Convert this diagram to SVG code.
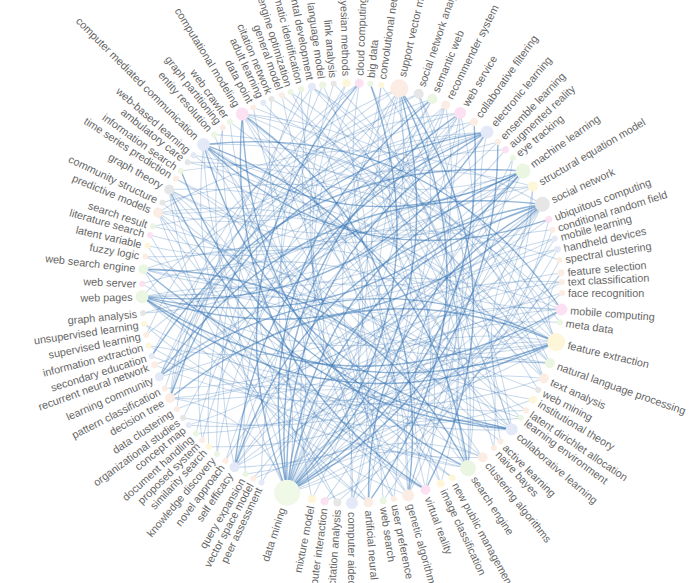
<svg xmlns="http://www.w3.org/2000/svg" width="690" height="583" viewBox="0 0 690 583">
<style>
.g{fill:#eaf5e2}.p{fill:#fbede3}.k{fill:#fbe1f1}.y{fill:#fdf6d8}.b{fill:#e3e9f6}.a{fill:#e6e6e6}.dm{fill:#f0f8e8}
text{font-family:"Liberation Sans",Arial,sans-serif;font-size:10.8px;fill:#666;dominant-baseline:central}
.L text{text-anchor:end}
#connectors path{fill:none;stroke:#3a78b6;stroke-opacity:.28;stroke-width:1}
#connectors path.s{stroke-opacity:.55;stroke-width:1.4}
</style>
<rect width="690" height="583" fill="#fff"/>
<g id="connectors" transform="translate(352 293)">
<path class="s" transform="rotate(195.5)" d="M9.2-209.8Q-116.7 0 9.2 209.8"/>
<path class="s" transform="rotate(24.5)" d="M23.8-208.6Q-101.4 0 23.8 208.6"/>
<path class="s" transform="rotate(29)" d="M40.1-206.1Q-83.6 0 40.1 206.1"/>
<path class="s" transform="rotate(36.25)" d="M65.8-199.4Q-53.8 0 65.8 199.4"/>
<path class="s" transform="rotate(41.5)" d="M83.8-192.6Q-31.8 0 83.8 192.6"/>
<path transform="rotate(60.75)" d="M142.5-154.2Q50 0 142.5 154.2"/>
<path transform="rotate(56.25)" d="M130-164.9Q31.1 0 130 164.9"/>
<path class="s" transform="rotate(190)" d="M29.2-208Q154 0 29.2 208"/>
<path class="s" transform="rotate(191.5)" d="M23.8-208.6Q-101.4 0 23.8 208.6"/>
<path class="s" transform="rotate(20.25)" d="M8.2-209.8Q-117.7 0 8.2 209.8"/>
<path transform="rotate(18.25)" d="M0.9-210Q126.9 0 0.9 210"/>
<path transform="rotate(22.25)" d="M15.6-209.4Q141.2 0 15.6 209.4"/>
<path class="s" transform="rotate(26.75)" d="M32-207.6Q156.6 0 32 207.6"/>
<path class="s" transform="rotate(31)" d="M47.2-204.6Q170 0 47.2 204.6"/>
<path transform="rotate(38.75)" d="M74.4-196.4Q192.2 0 74.4 196.4"/>
<path transform="rotate(43.75)" d="M91.3-189.1Q204.8 0 91.3 189.1"/>
<path transform="rotate(51.25)" d="M115.2-175.6Q9.8 0 115.2 175.6"/>
<path transform="rotate(52.5)" d="M119-173.1Q15.1 0 119 173.1"/>
<path transform="rotate(63.75)" d="M150.5-146.6Q62.5 0 150.5 146.6"/>
<path transform="rotate(66)" d="M156.1-140.5Q71.8 0 156.1 140.5"/>
<path transform="rotate(74.25)" d="M174.6-116.7Q104.6 0 174.6 116.7"/>
<path transform="rotate(79.75)" d="M185-99.4Q125.4 0 185 99.4"/>
<path transform="rotate(82.25)" d="M189.1-91.3Q134.3 0 189.1 91.3"/>
<path transform="rotate(166.5)" d="M109.8-179Q2.4 0 109.8 179"/>
<path transform="rotate(173.25)" d="M87.9-190.7Q-26.5 0 87.9 190.7"/>
<path transform="rotate(158.75)" d="M132.9-162.6Q35.3 0 132.9 162.6"/>
<path transform="rotate(143.5)" d="M171-122Q97.8 0 171 122"/>
<path transform="rotate(129)" d="M196.1-75.3Q150.9 0 196.1 75.3"/>
<path transform="rotate(183.5)" d="M52.6-203.3Q174.6 0 52.6 203.3"/>
<path transform="rotate(185)" d="M47.2-204.6Q-75.6 0 47.2 204.6"/>
<path transform="rotate(48)" d="M105-181.9Q-4.1 0 105 181.9"/>
<path transform="rotate(46.5)" d="M100.2-184.6Q-10.6 0 100.2 184.6"/>
<path class="s" transform="rotate(96.25)" d="M26.5-208.3Q151.5 0 26.5 208.3"/>
<path class="s" transform="rotate(100)" d="M12.8-209.6Q138.6 0 12.8 209.6"/>
<path transform="rotate(-72)" d="M16.5-209.4Q-109.1 0 16.5 209.4"/>
<path transform="rotate(-68.5)" d="M29.2-208Q-95.6 0 29.2 208"/>
<path transform="rotate(-60.75)" d="M57-202.1Q178.3 0 57 202.1"/>
<path class="s" transform="rotate(81.75)" d="M77.9-195Q-39.1 0 77.9 195"/>
<path class="s" transform="rotate(85)" d="M66.7-199.2Q-52.8 0 66.7 199.2"/>
<path transform="rotate(89.5)" d="M50.8-203.8Q173.1 0 50.8 203.8"/>
<path transform="rotate(68.75)" d="M119.7-172.5Q16.2 0 119.7 172.5"/>
<path transform="rotate(44)" d="M181-106.6Q117 0 181 106.6"/>
<path transform="rotate(-31.75)" d="M147.8-149.1Q58.3 0 147.8 149.1"/>
<path transform="rotate(-18.25)" d="M178.6-110.5Q112.3 0 178.6 110.5"/>
<path transform="rotate(-54)" d="M80.4-194Q196.8 0 80.4 194"/>
<path transform="rotate(4)" d="M207.1-34.7Q186.3 0 207.1 34.7"/>
<path class="s" transform="rotate(257)" d="M43.7-205.4Q-79.5 0 43.7 205.4"/>
<path class="s" transform="rotate(245.75)" d="M2.7-210Q128.7 0 2.7 210"/>
<path transform="rotate(62.5)" d="M9.2-209.8Q135.1 0 9.2 209.8"/>
<path class="s" transform="rotate(49.5)" d="M56.2-202.4Q-65.2 0 56.2 202.4"/>
<path transform="rotate(56.5)" d="M31.1-207.7Q155.7 0 31.1 207.7"/>
<path transform="rotate(268.75)" d="M84.6-192.2Q199.9 0 84.6 192.2"/>
<path transform="rotate(278)" d="M114.4-176.1Q8.7 0 114.4 176.1"/>
<path transform="rotate(24.75)" d="M135.7-160.3Q39.5 0 135.7 160.3"/>
<path class="s" transform="rotate(30.25)" d="M119.7-172.5Q16.2 0 119.7 172.5"/>
<path transform="rotate(7.75)" d="M176.6-113.6Q108.4 0 176.6 113.6"/>
<path transform="rotate(15.75)" d="M159.1-137.1Q76.8 0 159.1 137.1"/>
<path transform="rotate(250.25)" d="M19.2-209.1Q-106.3 0 19.2 209.1"/>
<path class="s" transform="rotate(251.75)" d="M62.3-200.5Q-58 0 62.3 200.5"/>
<path transform="rotate(255.5)" d="M75.3-196.1Q-42.4 0 75.3 196.1"/>
<path transform="rotate(267)" d="M112.9-177.1Q6.6 0 112.9 177.1"/>
<path class="s" transform="rotate(274.75)" d="M135.7-160.3Q39.5 0 135.7 160.3"/>
<path class="s" transform="rotate(243.5)" d="M32.9-207.4Q157.3 0 32.9 207.4"/>
<path transform="rotate(44.25)" d="M37.4-206.6Q-86.6 0 37.4 206.6"/>
<path transform="rotate(17)" d="M127.9-166.6Q27.9 0 127.9 166.6"/>
<path transform="rotate(27.25)" d="M96.1-186.7Q-15.9 0 96.1 186.7"/>
<path transform="rotate(10.5)" d="M145.9-151.1Q55.2 0 145.9 151.1"/>
<path transform="rotate(238.75)" d="M15.6-209.4Q-110 0 15.6 209.4"/>
<path transform="rotate(281.5)" d="M153.6-143.2Q67.7 0 153.6 143.2"/>
<path transform="rotate(349.75)" d="M82.9-192.9Q-32.8 0 82.9 192.9"/>
<path class="s" transform="rotate(356.25)" d="M60.6-201.1Q181.3 0 60.6 201.1"/>
<path transform="rotate(358.75)" d="M51.7-203.5Q-70.4 0 51.7 203.5"/>
<path class="s" transform="rotate(4.25)" d="M32-207.6Q156.6 0 32 207.6"/>
<path transform="rotate(341.75)" d="M109-179.5Q1.3 0 109 179.5"/>
<path transform="rotate(203.5)" d="M38.3-206.5Q-85.6 0 38.3 206.5"/>
<path transform="rotate(216.5)" d="M83.8-192.6Q199.4 0 83.8 192.6"/>
<path transform="rotate(242.75)" d="M160.3-135.7Q78.9 0 160.3 135.7"/>
<path transform="rotate(208)" d="M54.4-202.8Q176.1 0 54.4 202.8"/>
<path class="s" transform="rotate(140.75)" d="M21-209Q-104.4 0 21 209"/>
<path class="s" transform="rotate(-32.5)" d="M3.7-210Q-122.3 0 3.7 210"/>
<path transform="rotate(133)" d="M49-204.2Q171.5 0 49 204.2"/>
<path transform="rotate(129.5)" d="M61.4-200.8Q181.9 0 61.4 200.8"/>
<path transform="rotate(-28)" d="M20.1-209Q145.5 0 20.1 209"/>
<path transform="rotate(-25.25)" d="M30.1-207.8Q154.8 0 30.1 207.8"/>
<path class="s" transform="rotate(121.5)" d="M88.7-190.3Q-25.5 0 88.7 190.3"/>
<path transform="rotate(-22.25)" d="M41-206Q164.6 0 41 206"/>
<path class="s" transform="rotate(91.75)" d="M10.1-209.8Q136 0 10.1 209.8"/>
<path class="s" transform="rotate(244.5)" d="M87.1-191.1Q-27.6 0 87.1 191.1"/>
<path transform="rotate(240)" d="M101.8-183.7Q-8.4 0 101.8 183.7"/>
<path transform="rotate(109.75)" d="M74.4-196.4Q-43.4 0 74.4 196.4"/>
<path transform="rotate(115.25)" d="M93-188.3Q-20 0 93 188.3"/>
<path transform="rotate(101.5)" d="M45.5-205Q168.5 0 45.5 205"/>
<path transform="rotate(254.25)" d="M53.5-203.1Q175.4 0 53.5 203.1"/>
<path class="s" transform="rotate(312.75)" d="M8.2-209.8Q-117.7 0 8.2 209.8"/>
<path transform="rotate(147.25)" d="M44.6-205.2Q167.7 0 44.6 205.2"/>
<path transform="rotate(149.75)" d="M53.5-203.1Q-68.4 0 53.5 203.1"/>
<path transform="rotate(155.25)" d="M72.7-197Q190.9 0 72.7 197"/>
<path class="s" transform="rotate(294.75)" d="M72.7-197Q190.9 0 72.7 197"/>
<path class="s" transform="rotate(282.25)" d="M113.6-176.6Q7.6 0 113.6 176.6"/>
<path transform="rotate(302.25)" d="M46.3-204.8Q-76.6 0 46.3 204.8"/>
<path class="s" transform="rotate(154)" d="M20.1-209Q145.5 0 20.1 209"/>
<path class="s" transform="rotate(156.5)" d="M29.2-208Q-95.6 0 29.2 208"/>
<path transform="rotate(164.25)" d="M57-202.1Q-64.3 0 57 202.1"/>
<path transform="rotate(311.25)" d="M62.3-200.5Q182.6 0 62.3 200.5"/>
<path transform="rotate(321.75)" d="M24.7-208.5Q149.8 0 24.7 208.5"/>
<path transform="rotate(301.5)" d="M95.3-187.1Q-17 0 95.3 187.1"/>
<path class="s" transform="rotate(230)" d="M36.5-206.8Q160.6 0 36.5 206.8"/>
<path transform="rotate(233.25)" d="M48.1-204.4Q170.7 0 48.1 204.4"/>
<path class="s" transform="rotate(37)" d="M11-209.7Q-114.8 0 11 209.7"/>
<path transform="rotate(40)" d="M0-210Q-126 0 0 210"/>
<path transform="rotate(224)" d="M14.6-209.5Q140.3 0 14.6 209.5"/>
<path transform="rotate(251.5)" d="M109.8-179Q2.4 0 109.8 179"/>
<path transform="rotate(236.25)" d="M58.8-201.6Q179.8 0 58.8 201.6"/>
<path transform="rotate(212.5)" d="M5.5-209.9Q-120.4 0 5.5 209.9"/>
<path transform="rotate(225.5)" d="M52.6-203.3Q174.6 0 52.6 203.3"/>
<path transform="rotate(243.75)" d="M113.6-176.6Q7.6 0 113.6 176.6"/>
<path transform="rotate(251.75)" d="M137.1-159.1Q41.6 0 137.1 159.1"/>
<path transform="rotate(221)" d="M36.5-206.8Q-87.6 0 36.5 206.8"/>
<path transform="rotate(17.5)" d="M49-204.2Q171.5 0 49 204.2"/>
<path transform="rotate(234.75)" d="M84.6-192.2Q199.9 0 84.6 192.2"/>
<path class="s" transform="rotate(125)" d="M20.1-209Q145.5 0 20.1 209"/>
<path class="s" transform="rotate(128)" d="M9.2-209.8Q135.1 0 9.2 209.8"/>
<path transform="rotate(-49.25)" d="M0.9-210Q126.9 0 0.9 210"/>
<path transform="rotate(-38.75)" d="M39.2-206.3Q163 0 39.2 206.3"/>
<path transform="rotate(-31.75)" d="M64-200Q-56 0 64 200"/>
<path transform="rotate(118.25)" d="M44.6-205.2Q167.7 0 44.6 205.2"/>
<path transform="rotate(80.5)" d="M50.8-203.8Q-71.5 0 50.8 203.8"/>
<path transform="rotate(64.25)" d="M105.8-181.4Q-3 0 105.8 181.4"/>
<path transform="rotate(-75)" d="M38.3-206.5Q162.2 0 38.3 206.5"/>
<path transform="rotate(88)" d="M23.8-208.6Q149 0 23.8 208.6"/>
<path transform="rotate(82.25)" d="M44.6-205.2Q167.7 0 44.6 205.2"/>
<path transform="rotate(-13.25)" d="M8.2-209.8Q134.1 0 8.2 209.8"/>
<path transform="rotate(-8.5)" d="M25.6-208.4Q-99.4 0 25.6 208.4"/>
<path transform="rotate(-3.75)" d="M42.8-205.6Q166.2 0 42.8 205.6"/>
<path transform="rotate(142)" d="M80.4-194Q196.8 0 80.4 194"/>
<path transform="rotate(-12.75)" d="M28.3-208.1Q-96.6 0 28.3 208.1"/>
<path transform="rotate(-20)" d="M1.8-210Q127.8 0 1.8 210"/>
<path transform="rotate(150.75)" d="M32-207.6Q156.6 0 32 207.6"/>
<path transform="rotate(198)" d="M57.9-201.9Q179 0 57.9 201.9"/>
<path transform="rotate(57.5)" d="M83.8-192.6Q199.4 0 83.8 192.6"/>
<path transform="rotate(53.25)" d="M69.2-198.3Q-49.8 0 69.2 198.3"/>
<path transform="rotate(167.5)" d="M45.5-205Q-77.5 0 45.5 205"/>
<path transform="rotate(151.5)" d="M100.2-184.6Q-10.6 0 100.2 184.6"/>
<path transform="rotate(9.25)" d="M33.8-207.3Q158.2 0 33.8 207.3"/>
<path transform="rotate(103)" d="M23.8-208.6Q-101.4 0 23.8 208.6"/>
<path transform="rotate(119)" d="M80.4-194Q196.8 0 80.4 194"/>
<path transform="rotate(251.75)" d="M87.9-190.7Q-26.5 0 87.9 190.7"/>
<path transform="rotate(113.25)" d="M2.7-210Q-123.3 0 2.7 210"/>
<path transform="rotate(118.25)" d="M21-209Q146.4 0 21 209"/>
<path transform="rotate(273.75)" d="M67.5-198.9Q-51.8 0 67.5 198.9"/>
<path transform="rotate(298.5)" d="M3.7-210Q129.7 0 3.7 210"/>
<path transform="rotate(269.5)" d="M105-181.9Q-4.1 0 105 181.9"/>
<path transform="rotate(235)" d="M18.3-209.2Q-107.2 0 18.3 209.2"/>
<path transform="rotate(221.25)" d="M67.5-198.9Q186.8 0 67.5 198.9"/>
<path transform="rotate(226.5)" d="M71.8-197.3Q-46.6 0 71.8 197.3"/>
<path transform="rotate(236.75)" d="M35.6-207Q159.8 0 35.6 207"/>
<path transform="rotate(338.5)" d="M83.8-192.6Q-31.8 0 83.8 192.6"/>
<path transform="rotate(355.25)" d="M24.7-208.5Q-100.4 0 24.7 208.5"/>
<path transform="rotate(203.75)" d="M77.9-195Q194.9 0 77.9 195"/>
<path transform="rotate(5)" d="M49-204.2Q171.5 0 49 204.2"/>
<path transform="rotate(209.25)" d="M39.2-206.3Q163 0 39.2 206.3"/>
<path transform="rotate(217.5)" d="M68.4-198.6Q187.6 0 68.4 198.6"/>
<path transform="rotate(358.75)" d="M84.6-192.2Q-30.7 0 84.6 192.2"/>
<path transform="rotate(206.5)" d="M14.6-209.5Q140.3 0 14.6 209.5"/>
<path transform="rotate(241.25)" d="M131.5-163.8Q33.2 0 131.5 163.8"/>
<path transform="rotate(7.5)" d="M68.4-198.6Q-50.8 0 68.4 198.6"/>
<path transform="rotate(18.75)" d="M28.3-208.1Q-96.6 0 28.3 208.1"/>
<path transform="rotate(235.5)" d="M101.8-183.7Q-8.4 0 101.8 183.7"/>
<path transform="rotate(56.5)" d="M11-209.7Q-114.8 0 11 209.7"/>
<path transform="rotate(48.25)" d="M41-206Q-82.6 0 41 206"/>
<path transform="rotate(33.5)" d="M92.1-188.7Q205.3 0 92.1 188.7"/>
<path transform="rotate(109)" d="M1.8-210Q-124.2 0 1.8 210"/>
<path transform="rotate(-55.75)" d="M53.5-203.1Q175.4 0 53.5 203.1"/>
<path transform="rotate(68.75)" d="M137.1-159.1Q41.6 0 137.1 159.1"/>
<path transform="rotate(-58.75)" d="M26.5-208.3Q151.5 0 26.5 208.3"/>
<path transform="rotate(103.25)" d="M39.2-206.3Q-84.6 0 39.2 206.3"/>
<path transform="rotate(-37)" d="M5.5-209.9Q-120.4 0 5.5 209.9"/>
<path transform="rotate(99)" d="M141.9-154.9Q49 0 141.9 154.9"/>
<path transform="rotate(173.75)" d="M6.4-209.9Q132.3 0 6.4 209.9"/>
<path transform="rotate(36.75)" d="M138.5-158Q43.7 0 138.5 158"/>
<path transform="rotate(158.75)" d="M60.6-201.1Q181.3 0 60.6 201.1"/>
<path transform="rotate(333.25)" d="M57-202.1Q178.3 0 57 202.1"/>
<path transform="rotate(340.25)" d="M32-207.6Q-92.6 0 32 207.6"/>
<path transform="rotate(-77.25)" d="M46.3-204.8Q-76.6 0 46.3 204.8"/>
<path transform="rotate(81.25)" d="M32-207.6Q156.6 0 32 207.6"/>
<path transform="rotate(-68.25)" d="M49.9-204Q172.3 0 49.9 204"/>
<path transform="rotate(61.75)" d="M124.2-169.4Q22.6 0 124.2 169.4"/>
<path transform="rotate(-41)" d="M77-195.4Q-40.2 0 77 195.4"/>
<path transform="rotate(-50.25)" d="M33.8-207.3Q-90.6 0 33.8 207.3"/>
<path transform="rotate(101)" d="M70.1-198Q188.9 0 70.1 198"/>
<path transform="rotate(-24)" d="M111.3-178.1Q4.4 0 111.3 178.1"/>
<path transform="rotate(-40.75)" d="M46.3-204.8Q-76.6 0 46.3 204.8"/>
<path transform="rotate(105.5)" d="M75.3-196.1Q-42.4 0 75.3 196.1"/>
<path transform="rotate(133)" d="M16.5-209.4Q-109.1 0 16.5 209.4"/>
<path transform="rotate(-25.5)" d="M11-209.7Q-114.8 0 11 209.7"/>
<path transform="rotate(-15)" d="M36.5-206.8Q160.6 0 36.5 206.8"/>
<path transform="rotate(147.25)" d="M86.3-191.5Q-28.6 0 86.3 191.5"/>
<path transform="rotate(175)" d="M32.9-207.4Q157.3 0 32.9 207.4"/>
<path transform="rotate(186.25)" d="M4.6-209.9Q-121.3 0 4.6 209.9"/>
<path transform="rotate(177)" d="M50.8-203.8Q-71.5 0 50.8 203.8"/>
<path transform="rotate(30.5)" d="M18.3-209.2Q-107.2 0 18.3 209.2"/>
<path transform="rotate(39)" d="M40.1-206.1Q163.8 0 40.1 206.1"/>
<path transform="rotate(51.5)" d="M75.3-196.1Q193 0 75.3 196.1"/>
<path transform="rotate(62)" d="M88.7-190.3Q-25.5 0 88.7 190.3"/>
<path transform="rotate(60.5)" d="M63.2-200.3Q183.4 0 63.2 200.3"/>
<path transform="rotate(224.75)" d="M2.7-210Q128.7 0 2.7 210"/>
<path transform="rotate(63)" d="M43.7-205.4Q166.9 0 43.7 205.4"/>
<path transform="rotate(69)" d="M56.2-202.4Q177.6 0 56.2 202.4"/>
<path transform="rotate(229.25)" d="M49.9-204Q172.3 0 49.9 204"/>
<path transform="rotate(219)" d="M108.2-180Q0.2 0 108.2 180"/>
<path transform="rotate(79.75)" d="M4.6-209.9Q-121.3 0 4.6 209.9"/>
<path transform="rotate(269.75)" d="M10.1-209.8Q-115.8 0 10.1 209.8"/>
<path transform="rotate(264.75)" d="M55.3-202.6Q-66.3 0 55.3 202.6"/>
<path transform="rotate(114.75)" d="M42.8-205.6Q166.2 0 42.8 205.6"/>
<path transform="rotate(255)" d="M108.2-180Q0.2 0 108.2 180"/>
<path transform="rotate(131.75)" d="M82.9-192.9Q-32.8 0 82.9 192.9"/>
<path transform="rotate(156.5)" d="M43.7-205.4Q-79.5 0 43.7 205.4"/>
<path transform="rotate(181.25)" d="M10.1-209.8Q136 0 10.1 209.8"/>
</g>
<g id="face-recognition" transform="rotate(0 352 293)"><circle class="p" cx="562" cy="293" r="3"/><text x="568" y="293">face recognition</text></g>
<g id="mobile-computing" transform="rotate(4.5 352 293)"><circle class="k" cx="562" cy="293" r="6"/><text x="571" y="293">mobile computing</text></g>
<g id="meta-data" transform="rotate(8 352 293)"><circle class="g" cx="562" cy="293" r="3"/><text x="568" y="293">meta data</text></g>
<g id="feature-extraction" transform="rotate(13.5 352 293)"><circle class="y" cx="562" cy="293" r="9"/><text x="574" y="293">feature extraction</text></g>
<g id="natural-language-processing" transform="rotate(19.5 352 293)"><circle class="g" cx="562" cy="293" r="5"/><text x="570" y="293">natural language processing</text></g>
<g id="text-analysis" transform="rotate(24 352 293)"><circle class="p" cx="562" cy="293" r="5"/><text x="570" y="293">text analysis</text></g>
<g id="web-mining" transform="rotate(27.5 352 293)"><circle class="a" cx="562" cy="293" r="3"/><text x="568" y="293">web mining</text></g>
<g id="institutional-theory" transform="rotate(30.5 352 293)"><circle class="y" cx="562" cy="293" r="4"/><text x="569" y="293">institutional theory</text></g>
<g id="latent-dirichlet-allocation" transform="rotate(34 352 293)"><circle class="p" cx="562" cy="293" r="3"/><text x="568" y="293">latent dirichlet allocation</text></g>
<g id="learning-environment" transform="rotate(36.5 352 293)"><circle class="g" cx="562" cy="293" r="3"/><text x="568" y="293">learning environment</text></g>
<g id="collaborative-learning" transform="rotate(40.5 352 293)"><circle class="b" cx="562" cy="293" r="6"/><text x="571" y="293">collaborative learning</text></g>
<g id="active-learning" transform="rotate(45 352 293)"><circle class="p" cx="562" cy="293" r="3"/><text x="568" y="293">active learning</text></g>
<g id="naive-bayes" transform="rotate(47.5 352 293)"><circle class="p" cx="562" cy="293" r="3"/><text x="568" y="293">naive bayes</text></g>
<g id="clustering-algorithms" transform="rotate(51.5 352 293)"><circle class="p" cx="562" cy="293" r="5"/><text x="570" y="293">clustering algorithms</text></g>
<g id="search-engine" transform="rotate(56.5 352 293)"><circle class="g" cx="562" cy="293" r="8"/><text x="573" y="293">search engine</text></g>
<g id="new-public-management" transform="rotate(61.5 352 293)"><circle class="y" cx="562" cy="293" r="3.5"/><text x="568.5" y="293">new public management</text></g>
<g id="image-classification" transform="rotate(65 352 293)"><circle class="y" cx="562" cy="293" r="4"/><text x="569" y="293">image classification</text></g>
<g id="virtual-reality" transform="rotate(69.5 352 293)"><circle class="k" cx="562" cy="293" r="5"/><text x="570" y="293">virtual reality</text></g>
<g id="genetic-algorithm" transform="rotate(74.5 352 293)"><circle class="p" cx="562" cy="293" r="6"/><text x="571" y="293">genetic algorithm</text></g>
<g id="user-preference" transform="rotate(78.5 352 293)"><circle class="p" cx="562" cy="293" r="3"/><text x="568" y="293">user preference</text></g>
<g id="web-search" transform="rotate(81.5 352 293)"><circle class="g" cx="562" cy="293" r="3.5"/><text x="568.5" y="293">web search</text></g>
<g id="artificial-neural-network" transform="rotate(85.5 352 293)"><circle class="p" cx="562" cy="293" r="5"/><text x="570" y="293">artificial neural network</text></g>
<g id="computer-aided-design" transform="rotate(90 352 293)"><circle class="b" cx="562" cy="293" r="6"/><text x="571" y="293">computer aided design</text></g>
<g id="citation-analysis" class="L" transform="rotate(-86 352 293)"><circle class="a" cx="142" cy="293" r="4"/><text x="135" y="293">citation analysis</text></g>
<g id="human-computer-interaction" class="L" transform="rotate(-82.5 352 293)"><circle class="k" cx="142" cy="293" r="4"/><text x="135" y="293">human computer interaction</text></g>
<g id="mixture-model" class="L" transform="rotate(-79 352 293)"><circle class="y" cx="142" cy="293" r="4"/><text x="135" y="293">mixture model</text></g>
<g id="data-mining" class="L" transform="rotate(-72 352 293)"><circle class="dm" cx="142" cy="293" r="13"/><text x="126" y="293">data mining</text></g>
<g id="peer-assessment" class="L" transform="rotate(-64.5 352 293)"><circle class="b" cx="142" cy="293" r="3"/><text x="136" y="293">peer assessment</text></g>
<g id="vector-space-model" class="L" transform="rotate(-62 352 293)"><circle class="p" cx="142" cy="293" r="3"/><text x="136" y="293">vector space model</text></g>
<g id="query-expansion" class="L" transform="rotate(-59.5 352 293)"><circle class="g" cx="142" cy="293" r="3"/><text x="136" y="293">query expansion</text></g>
<g id="self-efficacy" class="L" transform="rotate(-56 352 293)"><circle class="b" cx="142" cy="293" r="5"/><text x="134" y="293">self efficacy</text></g>
<g id="novel-approach" class="L" transform="rotate(-53 352 293)"><circle class="p" cx="142" cy="293" r="3"/><text x="136" y="293">novel approach</text></g>
<g id="knowledge-discovery" class="L" transform="rotate(-50 352 293)"><circle class="g" cx="142" cy="293" r="3"/><text x="136" y="293">knowledge discovery</text></g>
<g id="similarity-search" class="L" transform="rotate(-47 352 293)"><circle class="y" cx="142" cy="293" r="3"/><text x="136" y="293">similarity search</text></g>
<g id="proposed-system" class="L" transform="rotate(-44.5 352 293)"><circle class="p" cx="142" cy="293" r="3"/><text x="136" y="293">proposed system</text></g>
<g id="document-handling" class="L" transform="rotate(-42 352 293)"><circle class="g" cx="142" cy="293" r="3"/><text x="136" y="293">document handling</text></g>
<g id="concept-map" class="L" transform="rotate(-39 352 293)"><circle class="b" cx="142" cy="293" r="3"/><text x="136" y="293">concept map</text></g>
<g id="organizational-studies" class="L" transform="rotate(-36.5 352 293)"><circle class="a" cx="142" cy="293" r="3"/><text x="136" y="293">organizational studies</text></g>
<g id="data-clustering" class="L" transform="rotate(-33.5 352 293)"><circle class="p" cx="142" cy="293" r="3"/><text x="136" y="293">data clustering</text></g>
<g id="decision-tree" class="L" transform="rotate(-30 352 293)"><circle class="p" cx="142" cy="293" r="5"/><text x="134" y="293">decision tree</text></g>
<g id="pattern-classification" class="L" transform="rotate(-27 352 293)"><circle class="p" cx="142" cy="293" r="3"/><text x="136" y="293">pattern classification</text></g>
<g id="learning-community" class="L" transform="rotate(-23.5 352 293)"><circle class="b" cx="142" cy="293" r="4.5"/><text x="134.5" y="293">learning community</text></g>
<g id="recurrent-neural-network" class="L" transform="rotate(-20 352 293)"><circle class="p" cx="142" cy="293" r="3.5"/><text x="135.5" y="293">recurrent neural network</text></g>
<g id="secondary-education" class="L" transform="rotate(-17.5 352 293)"><circle class="b" cx="142" cy="293" r="3"/><text x="136" y="293">secondary education</text></g>
<g id="information-extraction" class="L" transform="rotate(-14.5 352 293)"><circle class="y" cx="142" cy="293" r="3"/><text x="136" y="293">information extraction</text></g>
<g id="supervised-learning" class="L" transform="rotate(-11.5 352 293)"><circle class="p" cx="142" cy="293" r="3"/><text x="136" y="293">supervised learning</text></g>
<g id="unsupervised-learning" class="L" transform="rotate(-8.5 352 293)"><circle class="y" cx="142" cy="293" r="3"/><text x="136" y="293">unsupervised learning</text></g>
<g id="graph-analysis" class="L" transform="rotate(-5.5 352 293)"><circle class="a" cx="142" cy="293" r="3"/><text x="136" y="293">graph analysis</text></g>
<g id="web-pages" class="L" transform="rotate(-1 352 293)"><circle class="g" cx="142" cy="293" r="6.5"/><text x="132.5" y="293">web pages</text></g>
<g id="web-server" class="L" transform="rotate(2.5 352 293)"><circle class="k" cx="142" cy="293" r="3"/><text x="136" y="293">web server</text></g>
<g id="web-search-engine" class="L" transform="rotate(6.5 352 293)"><circle class="g" cx="142" cy="293" r="5"/><text x="134" y="293">web search engine</text></g>
<g id="fuzzy-logic" class="L" transform="rotate(10 352 293)"><circle class="p" cx="142" cy="293" r="3"/><text x="136" y="293">fuzzy logic</text></g>
<g id="latent-variable" class="L" transform="rotate(13 352 293)"><circle class="y" cx="142" cy="293" r="3"/><text x="136" y="293">latent variable</text></g>
<g id="literature-search" class="L" transform="rotate(16 352 293)"><circle class="k" cx="142" cy="293" r="3"/><text x="136" y="293">literature search</text></g>
<g id="search-result" class="L" transform="rotate(18.5 352 293)"><circle class="g" cx="142" cy="293" r="3"/><text x="136" y="293">search result</text></g>
<g id="predictive-models" class="L" transform="rotate(22.5 352 293)"><circle class="p" cx="142" cy="293" r="5"/><text x="134" y="293">predictive models</text></g>
<g id="community-structure" class="L" transform="rotate(25.5 352 293)"><circle class="a" cx="142" cy="293" r="3"/><text x="136" y="293">community structure</text></g>
<g id="graph-theory" class="L" transform="rotate(29.5 352 293)"><circle class="a" cx="142" cy="293" r="5"/><text x="134" y="293">graph theory</text></g>
<g id="time-series-prediction" class="L" transform="rotate(33 352 293)"><circle class="p" cx="142" cy="293" r="3"/><text x="136" y="293">time series prediction</text></g>
<g id="information-search" class="L" transform="rotate(35.5 352 293)"><circle class="g" cx="142" cy="293" r="3"/><text x="136" y="293">information search</text></g>
<g id="ambulatory-care" class="L" transform="rotate(38.5 352 293)"><circle class="a" cx="142" cy="293" r="3"/><text x="136" y="293">ambulatory care</text></g>
<g id="web-based-learning" class="L" transform="rotate(41 352 293)"><circle class="b" cx="142" cy="293" r="3"/><text x="136" y="293">web-based learning</text></g>
<g id="computer-mediated-communication" class="L" transform="rotate(45 352 293)"><circle class="b" cx="142" cy="293" r="6.5"/><text x="132.5" y="293">computer mediated communication</text></g>
<g id="entity-resolution" class="L" transform="rotate(49 352 293)"><circle class="g" cx="142" cy="293" r="3"/><text x="136" y="293">entity resolution</text></g>
<g id="graph-partitioning" class="L" transform="rotate(52 352 293)"><circle class="p" cx="142" cy="293" r="3"/><text x="136" y="293">graph partitioning</text></g>
<g id="web-crawler" class="L" transform="rotate(54.5 352 293)"><circle class="g" cx="142" cy="293" r="3"/><text x="136" y="293">web crawler</text></g>
<g id="computational-modeling" class="L" transform="rotate(58.5 352 293)"><circle class="k" cx="142" cy="293" r="6.5"/><text x="132.5" y="293">computational modeling</text></g>
<g id="data-point" class="L" transform="rotate(62 352 293)"><circle class="p" cx="142" cy="293" r="3"/><text x="136" y="293">data point</text></g>
<g id="adult-learning" class="L" transform="rotate(65 352 293)"><circle class="b" cx="142" cy="293" r="3"/><text x="136" y="293">adult learning</text></g>
<g id="citation-network" class="L" transform="rotate(67.5 352 293)"><circle class="a" cx="142" cy="293" r="3"/><text x="136" y="293">citation network</text></g>
<g id="general-model" class="L" transform="rotate(70.5 352 293)"><circle class="p" cx="142" cy="293" r="3"/><text x="136" y="293">general model</text></g>
<g id="search-engine-optimization" class="L" transform="rotate(73 352 293)"><circle class="g" cx="142" cy="293" r="3"/><text x="136" y="293">search engine optimization</text></g>
<g id="automatic-identification" class="L" transform="rotate(76 352 293)"><circle class="g" cx="142" cy="293" r="3"/><text x="136" y="293">automatic identification</text></g>
<g id="environmental-development" class="L" transform="rotate(79 352 293)"><circle class="b" cx="142" cy="293" r="4"/><text x="135" y="293">environmental development</text></g>
<g id="language-model" class="L" transform="rotate(82 352 293)"><circle class="g" cx="142" cy="293" r="3.5"/><text x="135.5" y="293">language model</text></g>
<g id="link-analysis" class="L" transform="rotate(85 352 293)"><circle class="a" cx="142" cy="293" r="3"/><text x="136" y="293">link analysis</text></g>
<g id="bayesian-methods" class="L" transform="rotate(88.5 352 293)"><circle class="y" cx="142" cy="293" r="4"/><text x="135" y="293">bayesian methods</text></g>
<g id="cloud-computing" transform="rotate(272 352 293)"><circle class="k" cx="562" cy="293" r="4.5"/><text x="569.5" y="293">cloud computing</text></g>
<g id="big-data" transform="rotate(275 352 293)"><circle class="g" cx="562" cy="293" r="3"/><text x="568" y="293">big data</text></g>
<g id="convolutional-neural-network" transform="rotate(278 352 293)"><circle class="y" cx="562" cy="293" r="3"/><text x="568" y="293">convolutional neural network</text></g>
<g id="support-vector-machine" transform="rotate(283 352 293)"><circle class="p" cx="562" cy="293" r="9"/><text x="574" y="293">support vector machine</text></g>
<g id="social-network-analysis" transform="rotate(288.5 352 293)"><circle class="a" cx="562" cy="293" r="5"/><text x="570" y="293">social network analysis</text></g>
<g id="semantic-web" transform="rotate(292.5 352 293)"><circle class="g" cx="562" cy="293" r="5"/><text x="570" y="293">semantic web</text></g>
<g id="recommender-system" transform="rotate(296.5 352 293)"><circle class="p" cx="562" cy="293" r="4.5"/><text x="569.5" y="293">recommender system</text></g>
<g id="web-service" transform="rotate(301 352 293)"><circle class="k" cx="562" cy="293" r="6"/><text x="571" y="293">web service</text></g>
<g id="collaborative-filtering" transform="rotate(305.5 352 293)"><circle class="p" cx="562" cy="293" r="4"/><text x="569" y="293">collaborative filtering</text></g>
<g id="electronic-learning" transform="rotate(310 352 293)"><circle class="b" cx="562" cy="293" r="6.5"/><text x="571.5" y="293">electronic learning</text></g>
<g id="ensemble-learning" transform="rotate(314 352 293)"><circle class="p" cx="562" cy="293" r="3"/><text x="568" y="293">ensemble learning</text></g>
<g id="augmented-reality" transform="rotate(317 352 293)"><circle class="k" cx="562" cy="293" r="3.5"/><text x="568.5" y="293">augmented reality</text></g>
<g id="eye-tracking" transform="rotate(320 352 293)"><circle class="g" cx="562" cy="293" r="3"/><text x="568" y="293">eye tracking</text></g>
<g id="machine-learning" transform="rotate(324.5 352 293)"><circle class="g" cx="562" cy="293" r="7.5"/><text x="572.5" y="293">machine learning</text></g>
<g id="structural-equation-model" transform="rotate(329.5 352 293)"><circle class="y" cx="562" cy="293" r="5"/><text x="570" y="293">structural equation model</text></g>
<g id="social-network" transform="rotate(335 352 293)"><circle class="a" cx="562" cy="293" r="7.5"/><text x="572.5" y="293">social network</text></g>
<g id="ubiquitous-computing" transform="rotate(339.5 352 293)"><circle class="k" cx="562" cy="293" r="3.5"/><text x="568.5" y="293">ubiquitous computing</text></g>
<g id="conditional-random-field" transform="rotate(342.5 352 293)"><circle class="p" cx="562" cy="293" r="3"/><text x="568" y="293">conditional random field</text></g>
<g id="mobile-learning" transform="rotate(345 352 293)"><circle class="b" cx="562" cy="293" r="3"/><text x="568" y="293">mobile learning</text></g>
<g id="handheld-devices" transform="rotate(348 352 293)"><circle class="b" cx="562" cy="293" r="3.5"/><text x="568.5" y="293">handheld devices</text></g>
<g id="spectral-clustering" transform="rotate(351 352 293)"><circle class="p" cx="562" cy="293" r="3"/><text x="568" y="293">spectral clustering</text></g>
<g id="feature-selection" transform="rotate(354.5 352 293)"><circle class="p" cx="562" cy="293" r="3.5"/><text x="568.5" y="293">feature selection</text></g>
<g id="text-classification" transform="rotate(357 352 293)"><circle class="p" cx="562" cy="293" r="3"/><text x="568" y="293">text classification</text></g>
</svg>
